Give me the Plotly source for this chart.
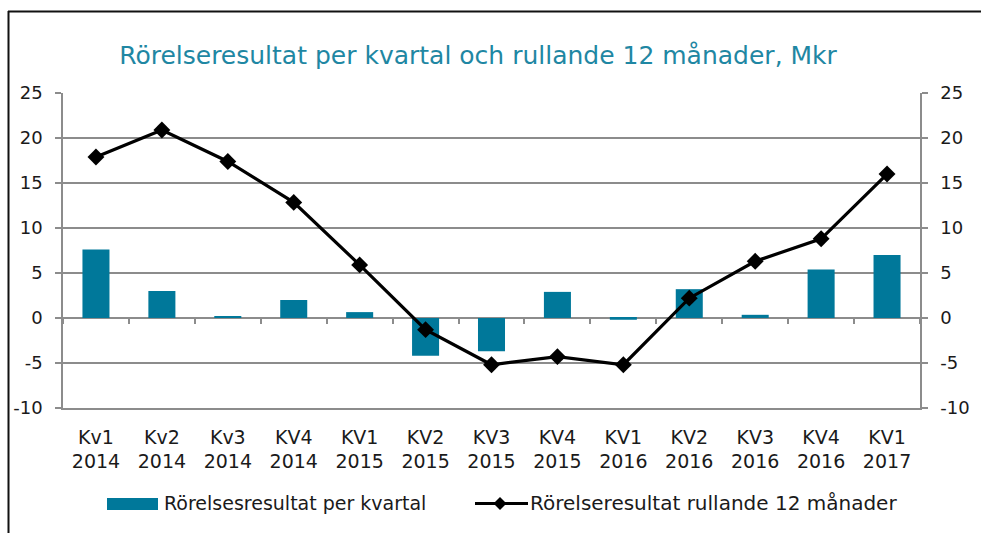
import plotly.graph_objects as go

categories = ["Kv1<br>2014", "Kv2<br>2014", "Kv3<br>2014", "KV4<br>2014",
              "KV1<br>2015", "KV2<br>2015", "KV3<br>2015", "KV4<br>2015",
              "KV1<br>2016", "KV2<br>2016", "KV3<br>2016", "KV4<br>2016",
              "KV1<br>2017"]
kvartal = [7.6, 3.0, 0.15, 2.0, 0.65, -4.2, -3.7, 2.9, -0.2, 3.2, 0.35, 5.4, 7.0]
rullande = [17.9, 20.9, 17.4, 12.85, 5.9, -1.3, -5.2, -4.3, -5.2, 2.2, 6.3, 8.8, 16.0]
y_ticks = [-10, -5, 0, 5, 10, 15, 20, 25]
y_ticktext = [str(v) for v in y_ticks]

title_text = "Rörelseresultat per kvartal och rullande 12 månader, Mkr"
legend_bar = "Rörelsesresultat per kvartal"
legend_line = "Rörelseresultat rullande 12 månader"

W, H = 981, 533
L, R, T, B = 63, 61, 93, 125
PW, PH = W - L - R, H - T - B

def px(x):
    return (x - L) / PW

def py(y):
    return (H - B - y) / PH

FONT = "DejaVu Sans"
BAR = "#00789a"
GRID = "#8c8c8c"
TXT = "#1a1a1a"
FS = 19
YFS = 18

fig = go.Figure()
fig.add_trace(go.Bar(x=categories, y=kvartal, marker=dict(color=BAR, line=dict(width=0)),
                     width=0.41, xaxis="x", yaxis="y", name=legend_bar))
fig.add_trace(go.Scatter(x=categories, y=rullande, mode="lines+markers",
                         line=dict(color="black", width=3.2),
                         marker=dict(symbol="diamond", size=13, color="black"),
                         xaxis="x2", yaxis="y", name=legend_line))

ymin, ymax = -10, 25
fig.update_layout(
    width=W, height=H,
    margin=dict(l=L, r=R, t=T, b=B, pad=0, autoexpand=False),
    paper_bgcolor="white", plot_bgcolor="white",
    showlegend=False,
    font=dict(family=FONT, size=FS, color=TXT),
    title=dict(text=title_text, font=dict(family=FONT, size=25, color="#1f87a3"),
               x=px(478), xref="paper", xanchor="center",
               y=1 - 55 / H, yref="container", yanchor="middle", automargin=False),
    xaxis=dict(type="category", categoryorder="array", categoryarray=categories,
               anchor="free", position=(0 - ymin) / (ymax - ymin),
               showticklabels=False, ticks="outside", tickson="boundaries",
               ticklen=5, tickwidth=1.5, tickcolor=GRID, automargin=False,
               showline=False, showgrid=False, zeroline=False,
               range=[-0.5, len(categories) - 0.5]),
    xaxis2=dict(type="category", categoryorder="array", categoryarray=categories,
                overlaying="x", matches="x", anchor="y", side="bottom", automargin=False,
                showticklabels=True, ticks="", showline=True, linecolor=GRID, linewidth=1.5,
                showgrid=False, zeroline=False, tickfont=dict(size=FS, color=TXT),
                ticklabelstandoff=11),
    yaxis=dict(range=[ymin - 0.01, ymax + 0.01], tickvals=y_ticks, ticktext=y_ticktext,
               ticks="outside", ticklen=6,
               tickwidth=1.5, tickcolor=GRID, showline=True, linecolor=GRID, linewidth=1.5,
               showgrid=True, gridcolor=GRID, gridwidth=1.5, automargin=False,
               zeroline=True, zerolinecolor=GRID, zerolinewidth=1.5,
               ticklabelstandoff=9, tickfont=dict(size=YFS, color=TXT)),
    yaxis2=dict(range=[ymin - 0.01, ymax + 0.01], tickvals=y_ticks, ticktext=y_ticktext,
                overlaying="y", side="right",
                anchor="x", ticks="outside", ticklen=6, tickwidth=1.5, tickcolor=GRID,
                showline=True, linecolor=GRID, linewidth=1.5, showgrid=False, zeroline=False,
                automargin=False,
                ticklabelstandoff=9, tickfont=dict(size=YFS, color=TXT)),
)

# invisible trace so the right axis renders
fig.add_trace(go.Scatter(x=[categories[0]], y=[0], xaxis="x", yaxis="y2",
                         mode="markers", marker=dict(opacity=0), hoverinfo="skip",
                         showlegend=False))

shapes = []
# outer frame (top and left)
shapes.append(dict(type="line", xref="paper", yref="paper", x0=px(8), x1=px(981),
                   y0=py(11.5), y1=py(11.5), line=dict(color="#111", width=2)))
shapes.append(dict(type="line", xref="paper", yref="paper", x0=px(8.5), x1=px(8.5),
                   y0=py(11), y1=py(533), line=dict(color="#111", width=2)))
# custom legend
shapes.append(dict(type="rect", xref="paper", yref="paper", x0=px(107), x1=px(158),
                   y0=py(510), y1=py(498), fillcolor=BAR, line=dict(width=0)))
shapes.append(dict(type="line", xref="paper", yref="paper", x0=px(475), x1=px(528),
                   y0=py(503.5), y1=py(503.5), line=dict(color="black", width=3)))
cx, cy, d = 500, 503.5, 6.5
shapes.append(dict(type="path", xref="paper", yref="paper",
                   path=f"M {px(cx - d)} {py(cy)} L {px(cx)} {py(cy - d)} L {px(cx + d)} {py(cy)} L {px(cx)} {py(cy + d)} Z",
                   fillcolor="black", line=dict(width=0)))
fig.update_layout(shapes=shapes)

fig.add_annotation(text=legend_bar, xref="paper", yref="paper", x=px(162), y=py(503),
                   xanchor="left", yanchor="middle", showarrow=False,
                   font=dict(family=FONT, size=FS, color=TXT))
fig.add_annotation(text=legend_line, xref="paper", yref="paper", x=px(528), y=py(503),
                   xanchor="left", yanchor="middle", showarrow=False,
                   font=dict(family=FONT, size=FS + 1, color=TXT))

fig.write_html("out.html")
